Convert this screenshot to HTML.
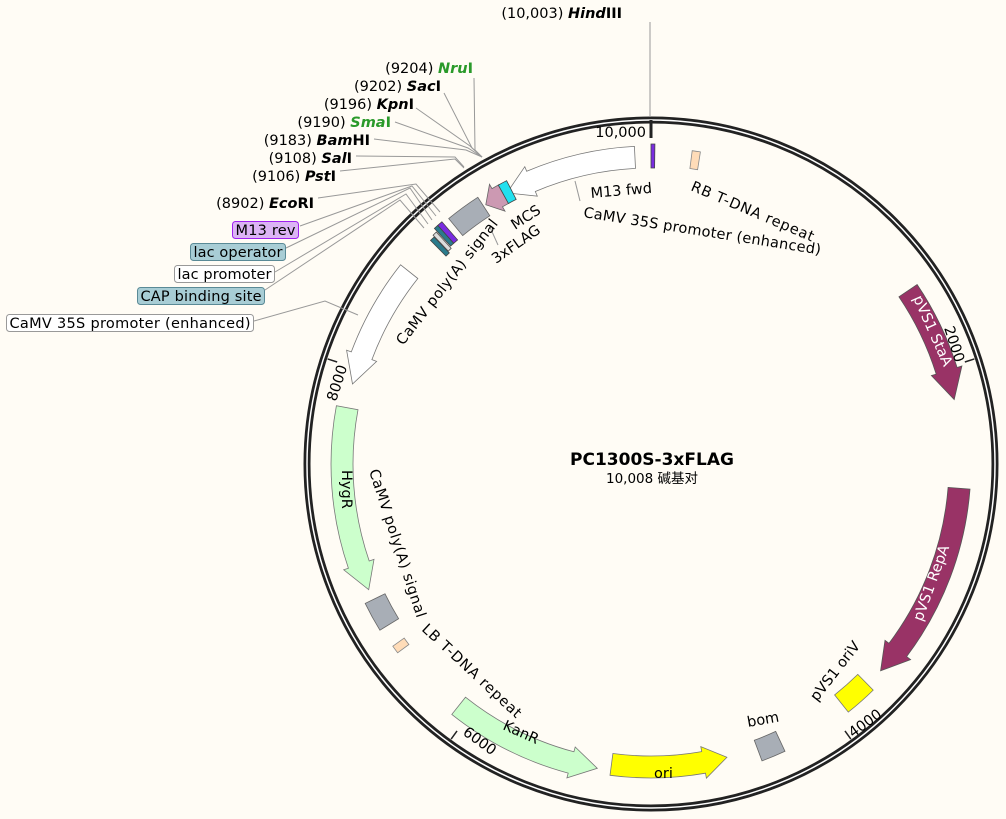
<!DOCTYPE html>
<html><head><meta charset="utf-8"><style>
html,body{margin:0;padding:0;background:#fffcf5;}
svg{display:block;font-family:"DejaVu Sans","Liberation Sans","Noto Sans CJK SC",sans-serif;}
.t{font-size:14.5px;fill:#000;}
.e{font-weight:bold;font-style:italic;}
.r{text-anchor:end;}
</style></head><body>
<svg id="s" width="1006" height="819" viewBox="0 0 1006 819" xmlns="http://www.w3.org/2000/svg">
<rect width="1006" height="819" fill="#fffcf5"/>
<g id="feat"></g>
<circle cx="651" cy="464" r="344" fill="none" stroke="#222" stroke-width="7"/>
<circle cx="651" cy="464" r="344" fill="none" stroke="#fff" stroke-width="1.5"/>
<line x1="651" y1="120" x2="651" y2="138" stroke="#222" stroke-width="3"/>
<g id="ticks" stroke="#222" stroke-width="1.5"></g>
<text class="t r" x="646" y="137">10,000</text>
<text class="t" transform="translate(944,328) rotate(72)">2000</text>
<text class="t" transform="translate(853,738) rotate(-36)">4000</text>
<text class="t" transform="translate(462,734) rotate(36)">6000</text>
<text class="t" transform="translate(336,402) rotate(-72)">8000</text>

<text x="652" y="465" text-anchor="middle" style="font-size:17px;font-weight:bold">PC1300S-3xFLAG</text>
<text x="652" y="483" text-anchor="middle" style="font-size:13.5px">10,008 碱基对</text>

<g stroke="#999" stroke-width="1" fill="none">
<line x1="650" y1="22" x2="650" y2="117"/>
<polyline points="474,78 475,150 482,157"/>
<polyline points="444,93 472,148 482,157"/>
<polyline points="416,108 470,146 482,157"/>
<polyline points="395,122 468,148 482,157"/>
<polyline points="374,139 466,150 482,157"/>
<polyline points="356,156 455,157 464,167"/>
<polyline points="340,171 455,159 464,168"/>
<polyline points="318,198 416,184 440,212"/>
<polyline points="300,226 412,186 436,216"/>
<polyline points="286,248 410,188 432,220"/>
<polyline points="275,272 406,194 428,224"/>
<polyline points="265,290 400,200 424,228"/>
<polyline points="254,321 325,301 358,315"/>
<polyline points="575,181 580,201"/>
<polyline points="489,225 498,245"/>
</g>
<text x="473" y="73" class="t r">(9204)  <tspan class="e" fill="#2a9a2a">Nru</tspan><tspan font-weight="bold" fill="#2a9a2a">I</tspan></text>
<text x="441" y="91" class="t r">(9202)  <tspan class="e">Sac</tspan><tspan font-weight="bold">I</tspan></text>
<text x="414" y="109" class="t r">(9196)  <tspan class="e">Kpn</tspan><tspan font-weight="bold">I</tspan></text>
<text x="391" y="127" class="t r">(9190)  <tspan class="e" fill="#2a9a2a">Sma</tspan><tspan font-weight="bold" fill="#2a9a2a">I</tspan></text>
<text x="370" y="145" class="t r">(9183)  <tspan class="e">Bam</tspan><tspan font-weight="bold">HI</tspan></text>
<text x="352" y="163" class="t r">(9108)  <tspan class="e">Sal</tspan><tspan font-weight="bold">I</tspan></text>
<text x="336" y="181" class="t r">(9106)  <tspan class="e">Pst</tspan><tspan font-weight="bold">I</tspan></text>
<text x="314" y="208" class="t r">(8902)  <tspan class="e">Eco</tspan><tspan font-weight="bold">RI</tspan></text>
<text x="622" y="18" class="t r">(10,003)  <tspan class="e">Hind</tspan><tspan font-weight="bold">III</tspan></text>

<rect x="232.5" y="221.5" width="66" height="17" rx="3" fill="#dcb4f5" stroke="#a020f0"/>
<text x="265.5" y="235" class="t" text-anchor="middle" textLength="60">M13 rev</text>
<rect x="190.5" y="243.5" width="95" height="17" rx="3" fill="#a8cdd5" stroke="#5a8a96"/>
<text x="238" y="257" class="t" text-anchor="middle" textLength="89">lac operator</text>
<rect x="174.5" y="265.5" width="100" height="17" rx="3" fill="#fff" stroke="#999"/>
<text x="224.5" y="279" class="t" text-anchor="middle" textLength="94">lac promoter</text>
<rect x="137.5" y="287.5" width="127" height="17" rx="3" fill="#a8cdd5" stroke="#5a8a96"/>
<text x="201" y="301" class="t" text-anchor="middle" textLength="121">CAP binding site</text>
<rect x="6.5" y="314.5" width="247" height="17" rx="3" fill="#fff" stroke="#999"/>
<text x="130" y="328" class="t" text-anchor="middle" textLength="241">CaMV 35S promoter (enhanced)</text>

<text class="t" transform="translate(591,198) rotate(-5)">M13 fwd</text>
<text class="t" transform="translate(583,217) rotate(9)" textLength="240">CaMV 35S promoter (enhanced)</text>
<text class="t" transform="translate(690,190) rotate(23)" textLength="132">RB T-DNA repeat</text>
<text class="t" transform="translate(515,230) rotate(-33)">MCS</text>
<text class="t" transform="translate(496,264) rotate(-35)">3xFLAG</text>
<text class="t" transform="translate(403,346) rotate(-52)" textLength="155">CaMV poly(A) signal</text>
<text class="t" transform="translate(369,471) rotate(72)" textLength="155">CaMV poly(A) signal</text>
<text class="t" transform="translate(421,630) rotate(43)" textLength="130">LB T-DNA repeat</text>
<text class="t" transform="translate(342,470) rotate(90)">HygR</text>
<text class="t" transform="translate(502,729) rotate(24)">KanR</text>
<text class="t" transform="translate(654,778)">ori</text>
<text class="t" transform="translate(748,727) rotate(-10)">bom</text>
<text class="t" transform="translate(817,702) rotate(-52)">pVS1 oriV</text>
<text class="t" style="fill:#fff" transform="translate(913,298) rotate(66)">pVS1 StaA</text>
<text class="t" style="fill:#fff" transform="translate(922,622) rotate(-70)">pVS1 RepA</text>
</svg>
<script>
var CX=651,CY=464,NS="http://www.w3.org/2000/svg";
function P(a,r){var t=a*Math.PI/180;return [CX+r*Math.sin(t),CY-r*Math.cos(t)];}
function f(p){return p[0].toFixed(1)+","+p[1].toFixed(1);}
function arc(a1,a2,r){var sw=a2>a1?1:0;var big=Math.abs(a2-a1)>180?1:0;return "A"+r+","+r+" 0 "+big+" "+sw+" "+f(P(a2,r));}
function add(d,fill,stroke){var e=document.createElementNS(NS,"path");e.setAttribute("d",d);e.setAttribute("fill",fill);e.setAttribute("stroke",stroke||"#666");e.setAttribute("stroke-width","0.8");document.getElementById("feat").appendChild(e);}
function box(a1,a2,r1,r2,fill,stroke){add("M"+f(P(a1,r2))+arc(a1,a2,r2)+"L"+f(P(a2,r1))+arc(a2,a1,r1)+"Z",fill,stroke);}
function arrow(a1,tip,r1,r2,head,fill,stroke){
 var dir=tip>a1?1:-1,hb=tip-dir*head,rm=(r1+r2)/2;
 var d="M"+f(P(a1,r2))+arc(a1,hb,r2)+"L"+f(P(hb,r2+5))+"L"+f(P(tip,rm))+"L"+f(P(hb,r1-5))+"L"+f(P(hb,r1))+arc(hb,a1,r1)+"Z";
 add(d,fill,stroke);}
arrow(-3,-28,296,318,5,"#fff","#777");
arrow(56,78,299,321,5.5,"#993366","#555");
arrow(94.5,132,298,320,5,"#993366","#555");
box(135.5,141.5,295,317,"#ffff00","#777");
box(155,159.5,295,317,"#a8aeb6","#666");
arrow(187.5,165.5,292,314,4.5,"#ffff00","#777");
arrow(218.5,190,298,320,5,"#ccffcc","#777");
box(233.3,234.8,302,316,"#ffdcb8","#888");
box(238.5,244,296,318,"#a8aeb6","#666");
arrow(280.5,246,298,320,5,"#ccffcc","#777");
arrow(308.5,285,298,320,5.5,"#fff","#777");
box(320.5,327,296,318,"#a8aeb6","#666");
arrow(331.5,327.5,297,318,2.5,"#cc99b2","#666");
box(331.3,333,297,318,"#22e0ee","#444");
box(318.2,319.2,296,320,"#7a2ce0","#444");
box(317.4,318.2,296,320,"#2a7b8c","#444");
box(316.4,317.2,294,316,"#ddd","#555");
box(315.4,316.3,292,314,"#2a7b8c","#444");
box(0,0.7,296,320,"#7a2ce0","#444");
box(7.5,9,298,316,"#ffdcb8","#888");
var tk=document.getElementById("ticks");
[72,144,216,288].forEach(function(a){var p=P(a,340),q=P(a,330);var l=document.createElementNS(NS,"line");l.setAttribute("x1",p[0]);l.setAttribute("y1",p[1]);l.setAttribute("x2",q[0]);l.setAttribute("y2",q[1]);tk.appendChild(l);});
</script>
</body></html>
